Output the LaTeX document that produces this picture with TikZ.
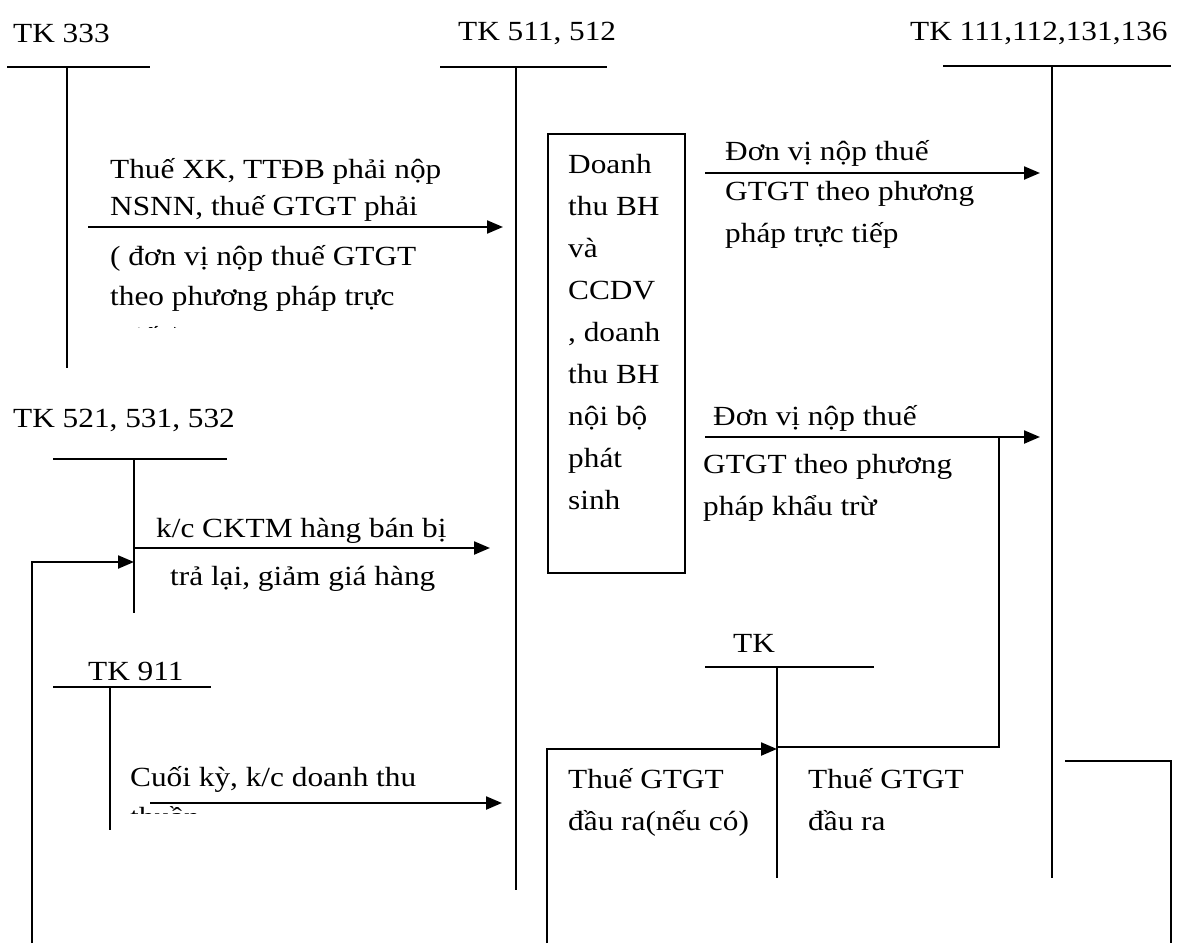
\documentclass[tikz,border=0pt]{standalone}
\usepackage{fontspec}
\setmainfont{Liberation Serif}[FakeStretch=1.13]
\usetikzlibrary{arrows.meta}

\begin{document}
\begin{tikzpicture}[x=1pt,y=-1pt,
    acc/.style={line width=2pt},
    flow/.style={line width=2.2pt,-{Triangle[length=16pt,width=13pt]}},
    txt/.style={anchor=base west,inner sep=0pt,font=\fontsize{27.7}{42}\selectfont}]
    \fill[white] (0,0) rectangle (1181,943);
    \useasboundingbox (0,0) rectangle (1181,943);

    % account names
    \node[txt] (l333) at (13,42) {TK 333};
    \node[txt] (l511) at (458,40) {TK 511, 512};
    \node[txt] (l111) at (910,40) {TK 111,112,131,136};
    \node[txt] (l521) at (13,427) {TK 521, 531, 532};
    \node[txt] (l911) at (88,680) {TK 911};
    \node[txt] (l3331) at (733,652) {TK};

    % T accounts
    \draw[acc] (7,67) -- (150,67);
    \draw[acc] (67,67) coordinate (t333) -- (67,368) coordinate (b333);
    \draw[acc] (440,67) -- (607,67);
    \draw[acc] (516,67) coordinate (t511) -- (516,890) coordinate (b511);
    \draw[acc] (943,66) -- (1171,66);
    \draw[acc] (1052,66) coordinate (t111) -- (1052,878) coordinate (b111);
    \draw[acc] (53,459) -- (227,459);
    \draw[acc] (134,459) coordinate (t521) -- (134,613) coordinate (b521);
    \draw[acc] (53,687) -- (211,687);
    \draw[acc] (110,687) coordinate (t911) -- (110,830) coordinate (b911);
    \draw[acc] (705,667) -- (874,667);
    \draw[acc] (777,667) coordinate (t3331) -- (777,878) coordinate (b3331);

    % revenue box
    \node[draw,line width=2pt,anchor=north west,inner sep=0pt,
          minimum width=137pt,minimum height=439pt] (dt) at (547,133) {};
    \foreach \w [count=\i] in {Doanh,thu BH,và,CCDV,{, doanh},thu BH,nội bộ,phát,sinh}
        \node[txt] (dt\i) at (568,131+42*\i) {\w};

    % TK 333 -> TK 511
    \coordinate (a1s) at (88,227);
    \coordinate (a1e) at (503,227);
    \draw[flow] (a1s) -- (a1e);
    \node[txt] (a1t1) at (110,178) {Thuế XK, TTĐB phải nộp};
    \node[txt] (a1t2) at (110,215) {NSNN, thuế GTGT phải};
    \begin{scope}
        \clip (100,230) rectangle (510,327);
        \node[txt] (a1b1) at (110,265) {( đơn vị nộp thuế GTGT};
        \node[txt] (a1b2) at (110,305) {theo phương pháp trực};
        \node[txt] (a1b3) at (126,346) {tiếp)};
    \end{scope}

    % TK 511 -> TK 111 (truc tiep)
    \coordinate (a2s) at (705,173);
    \coordinate (a2e) at (1040,173);
    \draw[flow] (a2s) -- (a2e);
    \node[txt] (a2t1) at (725,160) {Đơn vị nộp thuế};
    \node[txt] (a2t2) at (725,200) {GTGT theo phương};
    \node[txt] (a2t3) at (725,242) {pháp trực tiếp};

    % TK 511 -> TK 111 (khau tru)
    \coordinate (a3s) at (705,437);
    \coordinate (a3e) at (1040,437);
    \coordinate (a3k) at (999,437);
    \draw[flow] (a3s) -- (a3e);
    \draw[acc] (a3k) |- (t3331 |- 0,747);
    \node[txt] (a3t1) at (713,425) {Đơn vị nộp thuế};
    \node[txt] (a3t2) at (703,473) {GTGT theo phương};
    \node[txt] (a3t3) at (703,515) {pháp khẩu trừ};

    % TK 521 -> TK 511
    \coordinate (a4s) at (t521 |- 0,548);
    \coordinate (a4e) at (490,548);
    \draw[flow] (a4s) -- (a4e);
    \node[txt] (a4t1) at (156,537) {k/c CKTM hàng bán bị};
    \begin{scope}
        \clip (100,550) rectangle (510,592);
        \node[txt] (a4b1) at (170,585) {trả lại, giảm giá hàng};
    \end{scope}
    \coordinate (f1s) at (32,943);
    \draw[flow] (f1s) |- (t521 |- 0,562);

    % TK 511 -> TK 911
    \coordinate (a5s) at (150,803);
    \coordinate (a5e) at (502,803);
    \draw[flow] (a5s) -- (a5e);
    \node[txt] (a5t1) at (130,786) {Cuối kỳ, k/c doanh thu};
    \begin{scope}
        \clip (100,806) rectangle (510,813);
        \node[txt] (a5b1) at (130,826) {thuần};
    \end{scope}

    % VAT output
    \coordinate (a6s) at (547,943);
    \draw[flow] (a6s) |- (t3331 |- 0,749);
    \node[txt] (a6t1) at (568,788) {Thuế GTGT};
    \node[txt] (a6t2) at (568,830) {đầu ra(nếu có)};
    \node[txt] (a7t1) at (808,788) {Thuế GTGT};
    \node[txt] (a7t2) at (808,830) {đầu ra};
    \coordinate (r1s) at (1065,761);
    \coordinate (r1e) at (1171,943);
    \draw[acc] (r1s) -| (r1e);
\end{tikzpicture}
\end{document}
